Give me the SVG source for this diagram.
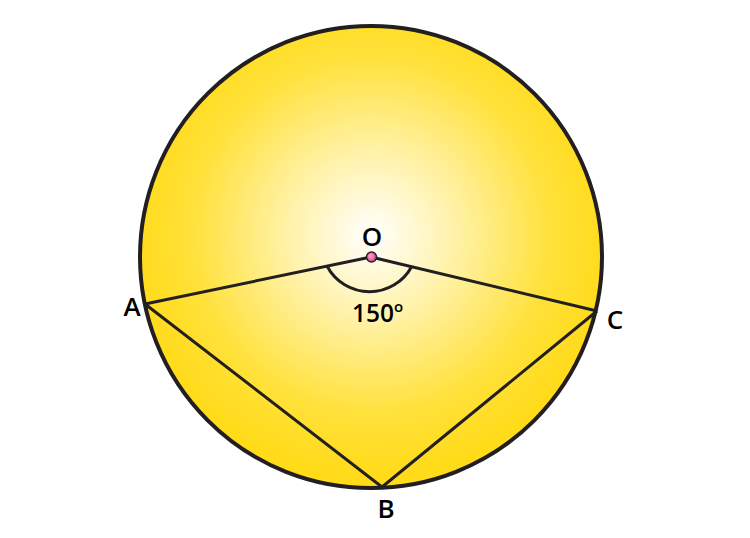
<svg xmlns="http://www.w3.org/2000/svg" width="750" height="538" viewBox="0 0 750 538">
<defs>
<radialGradient id="g" cx="371" cy="235" r="240" gradientUnits="userSpaceOnUse">
<stop offset="0" stop-color="#FFFFFF"/>
<stop offset="0.35" stop-color="#FFF2A8"/>
<stop offset="0.75" stop-color="#FFE13A"/>
<stop offset="1" stop-color="#FFDB1A"/>
</radialGradient>
<radialGradient id="dot" cx="0.4" cy="0.4" r="0.6">
<stop offset="0" stop-color="#F7A8D0"/>
<stop offset="1" stop-color="#E0408C"/>
</radialGradient>
</defs>
<style>
.ln{fill:none;stroke:#231F20;stroke-width:3;stroke-linejoin:round}
.lb{font-family:"Open Sans","Liberation Sans",sans-serif;font-weight:600;fill:#000}
</style>
<g id="circle">
<circle cx="371" cy="257" r="231" fill="url(#g)" stroke="#231F20" stroke-width="4"/>
</g>
<g id="connectors">
<polyline class="ln" points="145,304 371,257 597,311"/>
<polyline class="ln" points="145,304 382,487 597,311"/>
<path class="ln" d="M327,266 A48 48 0 0 0 412,266"/>
</g>
<g id="O">
<circle cx="371.5" cy="257" r="5" fill="url(#dot)" stroke="#231F20" stroke-width="1.5"/>
<text class="lb" x="372" y="246" font-size="26" text-anchor="middle">O</text>
</g>
<g id="A"><text class="lb" x="132" y="316" font-size="26" text-anchor="middle">A</text></g>
<g id="C"><text class="lb" x="615" y="329" font-size="26" text-anchor="middle">C</text></g>
<g id="B"><text class="lb" x="386" y="518" font-size="26" text-anchor="middle">B</text></g>
<g id="angle"><text class="lb" x="352" y="322" font-size="24.5">150<tspan font-size="15" dy="-10">o</tspan></text></g>
</svg>
